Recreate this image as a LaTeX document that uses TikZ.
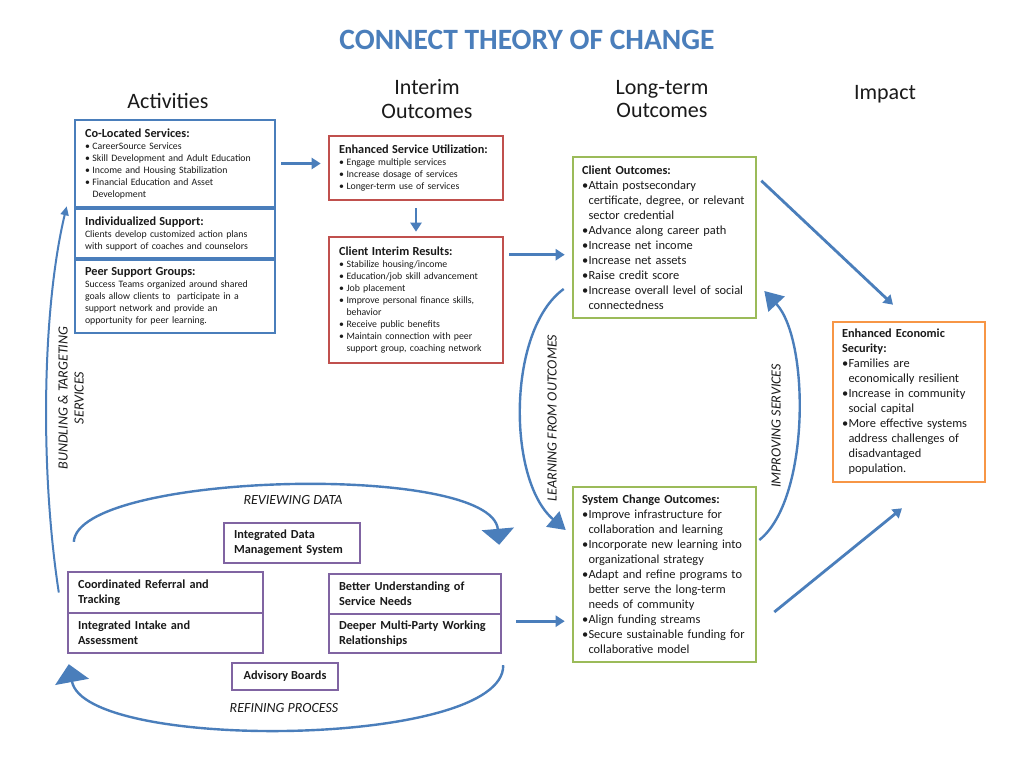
\documentclass[tikz,border=0pt]{standalone}
\usepackage{fontspec}
\setmainfont{Carlito}
\usetikzlibrary{arrows.meta,calc}
\setlength{\parindent}{0pt}
\definecolor{tblue}{HTML}{4A7EBB}
\definecolor{ablue}{HTML}{4A7EBB}
\definecolor{bblue}{HTML}{4A7EBB}
\definecolor{bred}{HTML}{C0504D}
\definecolor{bgreen}{HTML}{9BBB59}
\definecolor{borange}{HTML}{F79646}
\definecolor{bpurple}{HTML}{8064A2}
\definecolor{txt}{HTML}{1A1A1A}
\newlength\hw
\newcommand\hd[1]{{\fontsize{12.3}{15}\selectfont\bfseries #1\par}}
\newcommand\itm[1]{\par\noindent\hangindent=\hw\hangafter=1\makebox[\hw][l]{\textbullet}#1\par}
\begin{document}
\begin{tikzpicture}[x=1pt,y=-1pt,
  box/.style={draw, line width=2.6pt, fill=white, align=left, inner xsep=10pt, inner ysep=2pt, text=txt},
  small/.style={font=\fontsize{9.8}{12}\selectfont\setlength\hw{7.5pt}},
  large/.style={font=\fontsize{12.4}{15}\selectfont\setlength\hw{6.5pt}},
  actbox/.style={box, small, draw=bblue},
  intbox/.style={box, small, draw=bred},
  ltbox/.style={box, large, draw=bgreen, inner xsep=9pt},
  impbox/.style={box, large, draw=borange, inner xsep=9pt},
  pbox/.style={draw=bpurple, line width=2.4pt, fill=white, align=left, inner xsep=10pt, inner ysep=2pt, font=\fontsize{12.3}{15}\selectfont\bfseries, text=txt},
  hdr/.style={font=\fontsize{22}{23.5}\selectfont, align=center, text=txt},
  lbl/.style={font=\fontsize{14}{16}\selectfont\itshape, text=txt, align=center},
  arr/.style={draw=ablue, line width=2.8pt, -{Triangle[width=11pt,length=9pt]}},
  bigarr/.style 2 args={draw=ablue, line width=2.4pt, -{Triangle[width=#1,length=#2]}}
]
\fill[white] (0,0) rectangle (1024,768);
\useasboundingbox (0,0) rectangle (1024,768);

% title and headers
\node[font=\fontsize{29.5}{32}\selectfont\bfseries, text=tblue] (title) at (527,40) {CONNECT THEORY OF CHANGE};
\node[hdr] (hact) at (168,101) {Activities};
\node[hdr] (hint) at (427,99) {Interim\\Outcomes};
\node[hdr] (hlt) at (662,99) {Long-term\\Outcomes};
\node[hdr] (himp) at (885,94) {Impact};

% activities
\node[actbox, minimum width=200pt, minimum height=87pt, text width=180pt] (co) at (175,163.5) {%
\hd{Co-Located Services:}%
\itm{CareerSource Services}%
\itm{Skill Development and Adult Education}%
\itm{Income and Housing Stabilization}%
\itm{Financial Education and Asset\newline Development}};
\node[actbox, minimum width=200pt, minimum height=49pt, text width=180pt] (ind) at (175,233.5) {%
\hd{Individualized Support:}%
Clients develop customized action plans\newline with support of coaches and counselors};
\node[actbox, minimum width=200pt, minimum height=73pt, text width=180pt] (peer) at (175,296.5) {%
\hd{Peer Support Groups:}%
Success Teams organized around shared\newline goals allow clients to \ participate in a\newline support network and provide an\newline opportunity for peer learning.};

% interim
\node[intbox, minimum width=174pt, minimum height=64pt, text width=154pt] (esu) at (416,168) {%
\hd{Enhanced Service Utilization:}%
\itm{Engage multiple services}%
\itm{Increase dosage of services}%
\itm{Longer-term use of services}};
\node[intbox, minimum width=174pt, minimum height=126pt, text width=154pt] (cir) at (416,300) {%
\hd{Client Interim Results:}%
\itm{Stabilize housing/income}%
\itm{Education/job skill advancement}%
\itm{Job placement}%
\itm{Improve personal finance skills,\newline behavior}%
\itm{Receive public benefits}%
\itm{Maintain connection with peer\newline support group, coaching network}};

% long-term
\node[ltbox, minimum width=183pt, minimum height=161pt, text width=165pt] (clo) at (664.5,237.5) {%
\hd{Client Outcomes:}%
\itm{Attain postsecondary\newline certificate, degree, or relevant\newline sector credential}%
\itm{Advance along career path}%
\itm{Increase net income}%
\itm{Increase net assets}%
\itm{Raise credit score}%
\itm{Increase overall level of social\newline connectedness}};
\node[ltbox, minimum width=183pt, minimum height=175pt, text width=165pt] (sco) at (664.5,574.5) {%
\hd{System Change Outcomes:}%
\itm{Improve infrastructure for\newline collaboration and learning}%
\itm{Incorporate new learning into\newline organizational strategy}%
\itm{Adapt and refine programs to\newline better serve the long-term\newline needs of community}%
\itm{Align funding streams}%
\itm{Secure sustainable funding for\newline collaborative model}};

% impact
\node[impbox, minimum width=152pt, minimum height=160pt, text width=134pt] (imp) at (909,402) {%
\hd{Enhanced Economic\newline Security:}%
\itm{Families are\newline economically resilient}%
\itm{Increase in community\newline social capital}%
\itm{More effective systems\newline address challenges of\newline disadvantaged\newline population.}};

% purple boxes
\node[pbox, minimum width=136pt, minimum height=40pt, text width=116pt] (idm) at (292,543) {Integrated Data\newline Management System};
\node[pbox, minimum width=195pt, minimum height=41pt, text width=175pt] (crt) at (165.5,592.5) {Coordinated Referral and\newline Tracking};
\node[pbox, minimum width=195pt, minimum height=40pt, text width=175pt] (iia) at (165.5,633) {Integrated Intake and\newline Assessment};
\node[pbox, minimum width=172pt, minimum height=40pt, text width=152pt] (bus) at (415,594) {Better Understanding of\newline Service Needs};
\node[pbox, minimum width=172pt, minimum height=39pt, text width=152pt] (dmp) at (415,633.5) {Deeper Multi-Party Working\newline Relationships};
\node[pbox, minimum width=106pt, minimum height=27pt, align=center] (adv) at (285,676.5) {Advisory Boards};

% straight arrows
\draw[arr] ([xshift=5pt]co.east) -- ([xshift=-7pt]co.east -| esu.west);
\draw[arr, shorten <=7pt, shorten >=4pt] (esu.south) -- (cir.north);
\draw[arr] ([xshift=5pt,yshift=-19pt]cir.north east) -- ([xshift=-7pt,yshift=-19pt]cir.north east -| clo.west);
\draw[arr] ([xshift=14pt,yshift=-6pt]bus.south east) -- ([xshift=-7pt,yshift=-6pt]bus.south east -| sco.west);
\draw[arr] ([xshift=4pt,yshift=-25pt]clo.north east) -- ([xshift=-16pt,yshift=16pt]imp.north);
\draw[arr] ([xshift=17pt,yshift=-37.5pt]sco.east) -- ([xshift=-7pt,yshift=-25pt]imp.south);

% curved arrows
\draw[bigarr={20pt}{17pt}] ([xshift=-8pt,yshift=-51.5pt]clo.west) .. controls (507,330) and (507,480) .. ([xshift=-6pt,yshift=44.5pt]sco.west);
\draw[bigarr={22pt}{18pt}] ([xshift=2pt,yshift=34.5pt]sco.east) .. controls (810,500) and (810,340) .. ([xshift=7pt,yshift=-53.5pt]clo.east);
\draw[bigarr={32pt}{16pt}] ([xshift=7pt,yshift=29pt]crt.north west) .. controls (78,472) and (492,462) .. ([xshift=-3pt,yshift=28pt]bus.north east);
\draw[bigarr={34pt}{18pt}] ([xshift=1pt,yshift=-11pt]dmp.south east) .. controls (505,748) and (85,752) .. ([xshift=2pt,yshift=-10pt]iia.south west);
\draw[draw=ablue, line width=2pt, -{Triangle[width=8pt,length=9pt]}] ([xshift=-8pt]crt.west) .. controls (40,470) and (42,310) .. ([xshift=-7pt,yshift=2pt]co.south west);

% labels
\node[lbl, rotate=90] (lbund) at (71,398) {BUNDLING \& TARGETING\\SERVICES};
\node[lbl, rotate=90] (llearn) at (552,418) {LEARNING FROM OUTCOMES};
\node[lbl, rotate=90] (limpr) at (776,426) {IMPROVING SERVICES};
\node[lbl] (lrev) at (293,500) {REVIEWING DATA};
\node[lbl] (lref) at (284,708) {REFINING PROCESS};
\end{tikzpicture}
\end{document}
